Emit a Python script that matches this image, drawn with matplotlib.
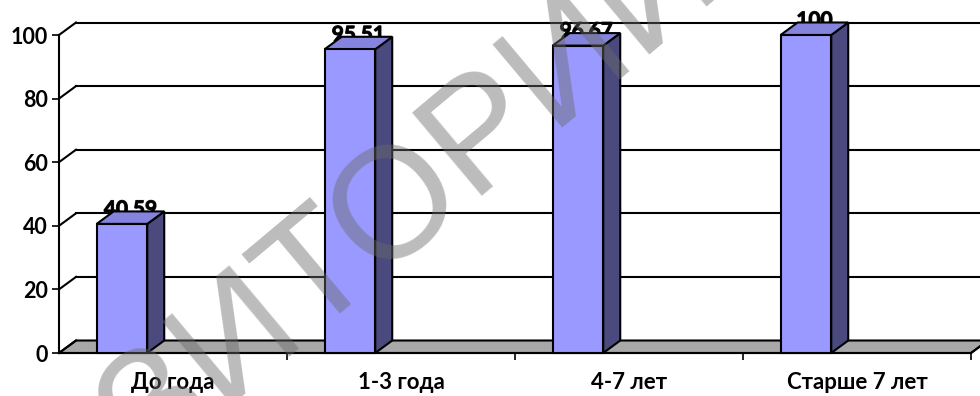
import numpy as np
import matplotlib
matplotlib.use("Agg")
import matplotlib.pyplot as plt
import matplotlib.patheffects as pe
from matplotlib.patches import Polygon, Rectangle
from matplotlib.textpath import TextPath
from matplotlib.font_manager import FontProperties

categories = ["До года", "1-3 года", "4-7 лет", "Старше 7 лет"]
values = [40.59, 95.51, 96.67, 100]
value_labels = ["40,59", "95,51", "96,67", "100"]
yticks = [0, 20, 40, 60, 80, 100]
watermark = "РЕПОЗИТОРИЙ"

W, H = 980, 396
fig = plt.figure(figsize=(W / 100, H / 100), dpi=100)
fig.patch.set_facecolor("white")
L, R, B, T = 59, 971, 353, 35
ax = fig.add_axes([L / W, 1 - B / H, (R - L) / W, (B - T) / H])
ax.set_xlim(0, 4)
ax.set_ylim(0, 100)
ax.set_facecolor("none")

px_x = (R - L) / 4.0
px_y = (B - T) / 100.0
DX = 17 / px_x
DY = 12.5 / px_y

FONT = "Lato"
lw = 1.5

# floor
floor = Polygon([(0, 0), (4, 0), (4 + DX, DY), (DX, DY)], closed=True,
                facecolor="#a8a8a8", edgecolor="black", lw=lw, clip_on=False, zorder=1)
ax.add_patch(floor)

# back wall gridlines + left diagonals
for v in yticks:
    if v > 0:
        ax.plot([DX, 4 + DX], [v + DY, v + DY], color="black", lw=lw, clip_on=False, zorder=1)
    ax.plot([0, DX], [v, v + DY], color="black", lw=lw, clip_on=False, zorder=1)

# bars
bw = 0.222
off = 0.165
lab_fp = FontProperties(family=FONT, weight="bold", size=15)
for i, (v, lab) in enumerate(zip(values, value_labels)):
    x0 = i + off
    x1 = x0 + bw
    ax.text((x0 + x1) / 2 + DX / 2, v + DY - 1.3, lab, ha="center", va="baseline",
            fontproperties=lab_fp, color="black", zorder=2, clip_on=False,
            path_effects=[pe.withStroke(linewidth=0.8, foreground="#222222")])
    side = Polygon([(x1, 0), (x1 + DX, DY), (x1 + DX, v + DY), (x1, v)], closed=True,
                   facecolor="#4a4a7e", edgecolor="black", lw=lw, clip_on=False, zorder=3)
    top = Polygon([(x0, v), (x1, v), (x1 + DX, v + DY), (x0 + DX, v + DY)], closed=True,
                  facecolor="#8484de", edgecolor="black", lw=lw, clip_on=False, zorder=3)
    front = Rectangle((x0, 0), bw, v, facecolor="#9999ff", edgecolor="black", lw=lw,
                      clip_on=False, zorder=4)
    ax.add_patch(side)
    ax.add_patch(top)
    ax.add_patch(front)

# right end of floor
ax.plot([4, 4 + DX], [0, DY], color="black", lw=lw, clip_on=False, zorder=1)

# axes styling
for s in ["top", "right"]:
    ax.spines[s].set_visible(False)
ax.spines["left"].set_linewidth(lw)
ax.spines["bottom"].set_linewidth(lw)
ax.spines["left"].set_zorder(5)
ax.set_yticks(yticks)
ax.set_yticklabels([str(t) for t in yticks])
ax.tick_params(axis="y", direction="out", length=5, width=1.2, pad=3)
for t in ax.get_yticklabels():
    t.set_fontfamily(FONT)
    t.set_fontweight("bold")
    t.set_fontsize(15.5)

ax.set_xticks([0.5, 1.5, 2.5, 3.5])
ax.set_xticklabels(categories)
ax.set_xticks([1, 2, 3, 4], minor=True)
ax.tick_params(axis="x", which="major", length=0, pad=14)
ax.tick_params(axis="x", which="minor", direction="out", length=5, width=1.2)
for t in ax.get_xticklabels():
    t.set_fontfamily(FONT)
    t.set_fontweight("bold")
    t.set_fontsize(16)

# watermark: place so that the second "О" is centred at the observed spot
wm_font = "Liberation Sans"
em_px = 158.0
theta = 40.0
fp1 = FontProperties(family=wm_font, size=1)
idx = watermark.rfind("О")
pre = TextPath((0, 0), watermark[:idx + 1], prop=fp1).get_extents()
ob = TextPath((0, 0), "О", prop=fp1).get_extents()
cx = pre.x1 - ob.width / 2
cy = (ob.y0 + ob.y1) / 2
target = np.array([387.0, H - 193.0])
th = np.radians(theta)
rot = np.array([[np.cos(th), -np.sin(th)], [np.sin(th), np.cos(th)]])
start = target - rot @ (np.array([cx, cy]) * em_px)
fig.text(start[0] / W, start[1] / H, watermark, fontsize=em_px * 72 / 100, family=wm_font,
         color="#6a6a6a", alpha=0.45, rotation=theta, rotation_mode="anchor",
         ha="left", va="baseline", zorder=10)

fig.savefig("out.png", dpi=100)
